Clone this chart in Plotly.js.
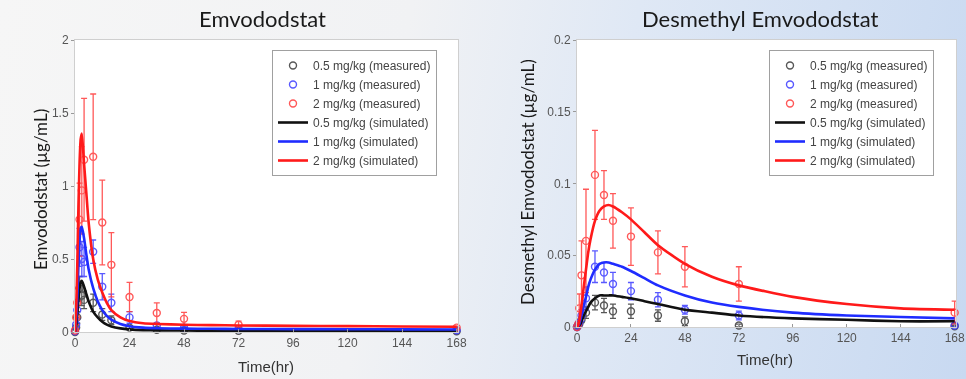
<!DOCTYPE html>
<html>
<head>
<meta charset="utf-8">
<script src="https://cdn.plot.ly/plotly-3.0.1.min.js"></script>
<style>
html,body{margin:0;padding:0;}
body{width:966px;height:379px;overflow:hidden;
background:linear-gradient(100deg,#f6f6f6 0%,#f1f2f4 40%,#dfe8f5 62%,#c8d9f1 100%);}
#chart{width:966px;height:379px;}
</style>
</head>
<body>
<div id="chart"></div>
<script>
// ---- Data ----
const doseLabels = ["0.5 mg/kg", "1 mg/kg", "2 mg/kg"];

// Left panel: Emvododstat, measured
const tMeasL = [0, 0.5, 1, 2, 3, 4, 8, 12, 16, 24, 36, 48, 72, 168];
const emv05 = [0, 0.03, 0.1, 0.3, 0.25, 0.22, 0.2, 0.12, 0.08, 0.03, 0.015, 0.01, 0.008, 0.005];
const emv05sd = [0, 0.01, 0.04, 0.08, 0.07, 0.06, 0.06, 0.04, 0.03, 0.012, 0.006, 0.004, 0.003, 0.002];
const emv1 = [0.005, 0.05, 0.15, 0.58, 0.5, 0.48, 0.55, 0.31, 0.2, 0.1, 0.045, 0.03, 0.02, 0.012];
const emv1sd = [0, 0.02, 0.06, 0.13, 0.12, 0.1, 0.08, 0.09, 0.06, 0.04, 0.015, 0.01, 0.005, 0.004];
const emv2 = [0.01, 0.1, 0.2, 0.77, 0.97, 1.18, 1.2, 0.75, 0.46, 0.24, 0.13, 0.09, 0.05, 0.03];
const emv2sd = [0.005, 0.05, 0.1, 0.25, 0.3, 0.42, 0.43, 0.29, 0.22, 0.1, 0.07, 0.045, 0.025, 0.01];

// Right panel: Desmethyl Emvododstat, measured
const tMeasR = [0, 0.5, 1, 2, 4, 8, 12, 16, 24, 36, 48, 72, 168];
const des05 = [0, 0.001, 0.002, 0.005, 0.01, 0.017, 0.015, 0.011, 0.011, 0.008, 0.004, 0.001, 0.0005];
const des05sd = [0, 0.0005, 0.001, 0.002, 0.004, 0.005, 0.005, 0.005, 0.005, 0.004, 0.003, 0.001, 0.0005];
const des1 = [0, 0.001, 0.003, 0.008, 0.02, 0.042, 0.038, 0.03, 0.025, 0.019, 0.012, 0.008, 0.001];
const des1sd = [0, 0.0005, 0.001, 0.004, 0.008, 0.011, 0.007, 0.008, 0.006, 0.005, 0.003, 0.003, 0.001];
const des2 = [0, 0.002, 0.013, 0.036, 0.06, 0.106, 0.092, 0.074, 0.063, 0.052, 0.042, 0.03, 0.01];
const des2sd = [0, 0.001, 0.01, 0.024, 0.036, 0.031, 0.017, 0.019, 0.02, 0.015, 0.014, 0.012, 0.008];

// Simulated curves
const tSim = [0, 0.5, 1, 1.5, 2, 2.5, 3, 4, 5, 6, 8, 10, 12, 14, 16, 20, 24, 30, 36, 48, 60, 72, 96, 120, 144, 168];
const simEmv05 = [0, 0.04, 0.12, 0.22, 0.3, 0.34, 0.35, 0.31, 0.26, 0.21, 0.14, 0.1, 0.07, 0.05, 0.038, 0.025, 0.018, 0.013, 0.011, 0.01, 0.009, 0.009, 0.008, 0.008, 0.007, 0.007];
const simEmv1 = [0, 0.08, 0.23, 0.45, 0.62, 0.71, 0.72, 0.64, 0.53, 0.43, 0.3, 0.21, 0.15, 0.11, 0.085, 0.055, 0.04, 0.03, 0.026, 0.023, 0.022, 0.021, 0.02, 0.019, 0.018, 0.017];
const simEmv2 = [0, 0.15, 0.45, 0.85, 1.15, 1.32, 1.36, 1.15, 0.95, 0.75, 0.5, 0.36, 0.27, 0.2, 0.15, 0.1, 0.075, 0.06, 0.055, 0.05, 0.047, 0.045, 0.042, 0.04, 0.038, 0.036];
const simDes05 = [0, 0.0003, 0.001, 0.002, 0.004, 0.006, 0.008, 0.011, 0.014, 0.017, 0.02, 0.022, 0.022, 0.022, 0.022, 0.021, 0.02, 0.018, 0.016, 0.012, 0.01, 0.008, 0.006, 0.005, 0.004, 0.004];
const simDes1 = [0, 0.0005, 0.002, 0.005, 0.008, 0.011, 0.015, 0.021, 0.028, 0.033, 0.04, 0.044, 0.045, 0.045, 0.044, 0.042, 0.039, 0.034, 0.029, 0.022, 0.017, 0.014, 0.01, 0.008, 0.007, 0.006];
const simDes2 = [0, 0.001, 0.004, 0.009, 0.015, 0.021, 0.028, 0.04, 0.052, 0.061, 0.074, 0.081, 0.084, 0.085, 0.084, 0.08, 0.075, 0.066, 0.057, 0.044, 0.035, 0.029, 0.021, 0.016, 0.013, 0.012];

const xTicks = [0, 24, 48, 72, 96, 120, 144, 168];
const yTicksL = [0, 0.5, 1, 1.5, 2];
const yTicksR = [0, 0.05, 0.1, 0.15, 0.2];

// ---- Styles ----
const colMeas = ["#3a3a3a", "#3b3bff", "#ff3b3b"];
const colSim = ["#111111", "#1f2cff", "#ff1a1a"];

function meas(x, y, sd, i, xa, ya, lg) {
  return {
    x: x, y: y, type: "scatter", mode: "markers",
    name: doseLabels[i] + " (measured)",
    xaxis: xa, yaxis: ya, legend: lg,
    marker: {symbol: "circle-open", size: 7, color: colMeas[i], line: {width: 1.4}},
    opacity: 0.85,
    error_y: {type: "data", array: sd, visible: true, color: colMeas[i], thickness: 1.3, width: 3},
    cliponaxis: false
  };
}
function sim(x, y, i, xa, ya, lg) {
  return {
    x: x, y: y, type: "scatter", mode: "lines",
    name: doseLabels[i] + " (simulated)",
    xaxis: xa, yaxis: ya, legend: lg,
    line: {color: colSim[i], width: 2.6, shape: "spline", smoothing: 0.6}
  };
}

const data = [
  meas(tMeasL, emv05, emv05sd, 0, "x", "y", "legend"),
  meas(tMeasL, emv1, emv1sd, 1, "x", "y", "legend"),
  meas(tMeasL, emv2, emv2sd, 2, "x", "y", "legend"),
  sim(tSim, simEmv05, 0, "x", "y", "legend"),
  sim(tSim, simEmv1, 1, "x", "y", "legend"),
  sim(tSim, simEmv2, 2, "x", "y", "legend"),
  meas(tMeasR, des05, des05sd, 0, "x2", "y2", "legend2"),
  meas(tMeasR, des1, des1sd, 1, "x2", "y2", "legend2"),
  meas(tMeasR, des2, des2sd, 2, "x2", "y2", "legend2"),
  sim(tSim, simDes05, 0, "x2", "y2", "legend2"),
  sim(tSim, simDes1, 1, "x2", "y2", "legend2"),
  sim(tSim, simDes2, 2, "x2", "y2", "legend2")
];

const W = 966, H = 379;
const tickFont = {family: "Liberation Sans, Arial, sans-serif", size: 12, color: "#555"};
function xax(dom) {
  return {domain: dom, range: [0, 168.6], tickvals: xTicks, ticktext: xTicks.map(String),
    showgrid: false, zeroline: false, showline: true, mirror: true, linecolor: "#cfcfcf", linewidth: 1,
    ticks: "inside", ticklen: 3, tickcolor: "#999", tickfont: tickFont, fixedrange: true};
}
function yax(dom, rng, tv, anchor) {
  return {domain: dom, range: rng, tickvals: tv, ticktext: tv.map(String), anchor: anchor,
    showgrid: false, zeroline: false, showline: true, mirror: true, linecolor: "#cfcfcf", linewidth: 1,
    ticks: "outside", ticklen: 3, tickcolor: "#999", tickfont: tickFont, fixedrange: true};
}
const legFont = {family: "Liberation Sans, Arial, sans-serif", size: 12, color: "#444"};
const titleFont = {family: "Lato, Open Sans, sans-serif", size: 22, color: "#1a1a1a"};
const axTitleFont = {family: "Lato, Open Sans, sans-serif", size: 17, color: "#1a1a1a"};

const layout = {
  width: W, height: H,
  margin: {l: 0, r: 0, t: 0, b: 0},
  paper_bgcolor: "rgba(0,0,0,0)",
  plot_bgcolor: "#ffffff",
  showlegend: true,
  xaxis: Object.assign(xax([75 / W, 458 / W]), {anchor: "y"}),
  yaxis: yax([(H - 332) / H, (H - 40) / H], [0, 2], yTicksL, "x"),
  xaxis2: Object.assign(xax([577 / W, 956 / W]), {anchor: "y2"}),
  yaxis2: yax([(H - 327) / H, (H - 40) / H], [0, 0.2], yTicksR, "x2"),
  legend: {x: 272 / W, y: 1 - 50 / H, xanchor: "left", yanchor: "top", bgcolor: "#ffffff",
    bordercolor: "#a0a0a0", borderwidth: 1, font: legFont, traceorder: "normal",
    tracegroupgap: 0, itemwidth: 30},
  legend2: {x: 769 / W, y: 1 - 50 / H, xanchor: "left", yanchor: "top", bgcolor: "#ffffff",
    bordercolor: "#a0a0a0", borderwidth: 1, font: legFont, traceorder: "normal",
    tracegroupgap: 0, itemwidth: 30},
  annotations: [
    {text: "Emvododstat", x: 262 / W, y: 1 - 18 / H, xref: "paper", yref: "paper", showarrow: false,
      xanchor: "center", yanchor: "middle", font: titleFont},
    {text: "Desmethyl Emvododstat", x: 760 / W, y: 1 - 18 / H, xref: "paper", yref: "paper", showarrow: false,
      xanchor: "center", yanchor: "middle", font: titleFont},
    {text: "Emvododstat (µg/mL)", x: 40 / W, y: 1 - 190 / H, xref: "paper", yref: "paper", showarrow: false,
      textangle: -90, xanchor: "center", yanchor: "middle", font: axTitleFont},
    {text: "Desmethyl Emvododstat (µg/mL)", x: 527 / W, y: 1 - 182 / H, xref: "paper", yref: "paper", showarrow: false,
      textangle: -90, xanchor: "center", yanchor: "middle", font: axTitleFont},
    {text: "Time(hr)", x: 266 / W, y: 1 - 366 / H, xref: "paper", yref: "paper", showarrow: false,
      xanchor: "center", yanchor: "middle", font: {family: "Liberation Sans, Arial, sans-serif", size: 15, color: "#333"}},
    {text: "Time(hr)", x: 765 / W, y: 1 - 359 / H, xref: "paper", yref: "paper", showarrow: false,
      xanchor: "center", yanchor: "middle", font: {family: "Liberation Sans, Arial, sans-serif", size: 15, color: "#333"}}
  ]
};

Plotly.newPlot("chart", data, layout, {staticPlot: true, displayModeBar: false});
</script>
</body>
</html>
